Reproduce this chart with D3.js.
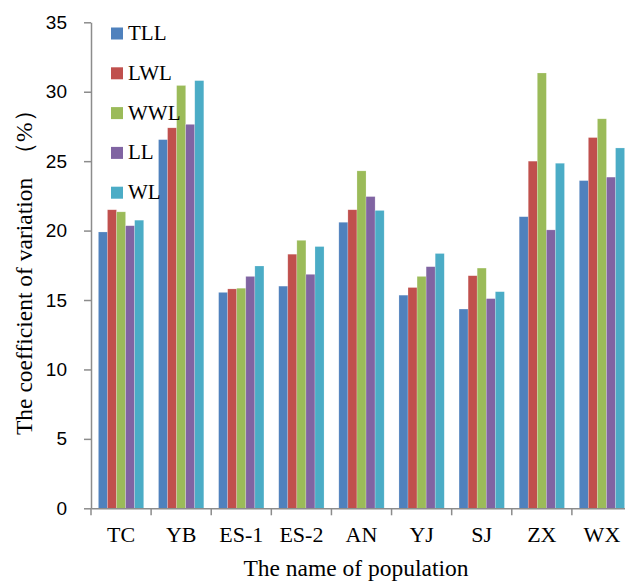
<!DOCTYPE html>
<html>
<head>
<meta charset="utf-8">
<script src="https://cdn.jsdelivr.net/npm/d3@7"></script>
<style>
  body { margin: 0; background: #fff; }
  svg { display: block; font-family: "Liberation Serif", "Times New Roman", serif; }
</style>
</head>
<body>
<svg id="chart" width="625" height="582"></svg>
<script>
const populations = ["TC", "YB", "ES-1", "ES-2", "AN", "YJ", "SJ", "ZX", "WX"];
const traits = ["TLL", "LWL", "WWL", "LL", "WL"];
const tll = [19.9, 26.55, 15.55, 16.0, 20.6, 15.35, 14.35, 21.0, 23.6];
const lwl = [21.5, 27.4, 15.8, 18.3, 21.5, 15.9, 16.75, 25.0, 26.7];
const wwl = [21.35, 30.45, 15.85, 19.3, 24.3, 16.7, 17.3, 31.35, 28.05];
const ll = [20.35, 27.65, 16.7, 16.85, 22.45, 17.4, 15.1, 20.05, 23.85];
const wl = [20.75, 30.8, 17.45, 18.85, 21.45, 18.35, 15.6, 24.85, 25.95];
const yTicks = [0, 5, 10, 15, 20, 25, 30, 35];

const colors = ["#4F81BD", "#C0504D", "#9BBB59", "#8064A2", "#4BACC6"];
const series = [tll, lwl, wwl, ll, wl];

const svg = d3.select("#chart");
const plotLeft = 91, plotRight = 632, plotTop = 22.3, plotBottom = 508.3;

const x = d3.scaleBand().domain(populations).range([plotLeft, plotRight]);
const xi = d3.scaleBand().domain(traits).range([7.4, x.bandwidth() - 7.4]);
const y = d3.scaleLinear().domain([0, 35]).range([plotBottom, plotTop]);

const axisColor = "#8c8c8c";

// bars
populations.forEach((p, i) => {
  const g = svg.append("g").attr("transform", `translate(${x(p)},0)`);
  g.selectAll("rect")
    .data(traits.map((t, k) => ({ t, v: series[k][i], k })))
    .join("rect")
    .attr("x", d => xi(d.t))
    .attr("width", xi.bandwidth())
    .attr("y", d => y(d.v))
    .attr("height", d => plotBottom - y(d.v))
    .attr("fill", d => colors[d.k])
    .attr("stroke", "#ffffff")
    .attr("stroke-opacity", 0.35)
    .attr("stroke-width", 0.6);
});

// y axis
const yAxis = svg.append("g")
  .attr("transform", `translate(${plotLeft},0)`)
  .call(d3.axisLeft(y).tickValues(yTicks).tickSize(7).tickPadding(17).tickSizeOuter(0));
yAxis.select(".domain").attr("stroke", axisColor).attr("stroke-width", 1.5);
yAxis.selectAll(".tick line").attr("stroke", axisColor).attr("stroke-width", 1.5);
yAxis.selectAll(".tick text")
  .attr("font-size", 19).attr("fill", "#000")
  .attr("font-family", "Liberation Sans, Arial, sans-serif");

// x axis
const xAxis = svg.append("g")
  .attr("transform", `translate(0,${plotBottom})`)
  .call(d3.axisBottom(x).tickSize(0).tickPadding(18));
xAxis.select(".domain").attr("stroke", axisColor).attr("stroke-width", 1.5);
xAxis.selectAll(".tick text")
  .attr("font-size", 22).attr("fill", "#000")
  .attr("font-family", "Liberation Serif, serif");

// x ticks at category boundaries
svg.append("g").selectAll("line")
  .data(populations)
  .join("line")
  .attr("x1", d => x(d)).attr("x2", d => x(d))
  .attr("y1", plotBottom).attr("y2", plotBottom + 7)
  .attr("stroke", axisColor).attr("stroke-width", 1.5);

// axis titles
svg.append("text")
  .attr("x", 356).attr("y", 576)
  .attr("text-anchor", "middle")
  .attr("font-size", 23.5)
  .text("The name of population");

svg.append("text")
  .attr("transform", "translate(32,435) rotate(-90)")
  .attr("text-anchor", "start")
  .attr("font-size", 23.5)
  .text("The coefficient of variation\u00A0 （%）");

// legend
const legend = svg.append("g").attr("transform", "translate(111,27.5)");
traits.forEach((t, k) => {
  const row = legend.append("g").attr("transform", `translate(0,${k * 39.8})`);
  row.append("rect").attr("width", 12).attr("height", 12).attr("fill", colors[k]);
  row.append("text").attr("x", 17).attr("y", 12.5).attr("font-size", 21).text(t);
});
</script>
</body>
</html>
